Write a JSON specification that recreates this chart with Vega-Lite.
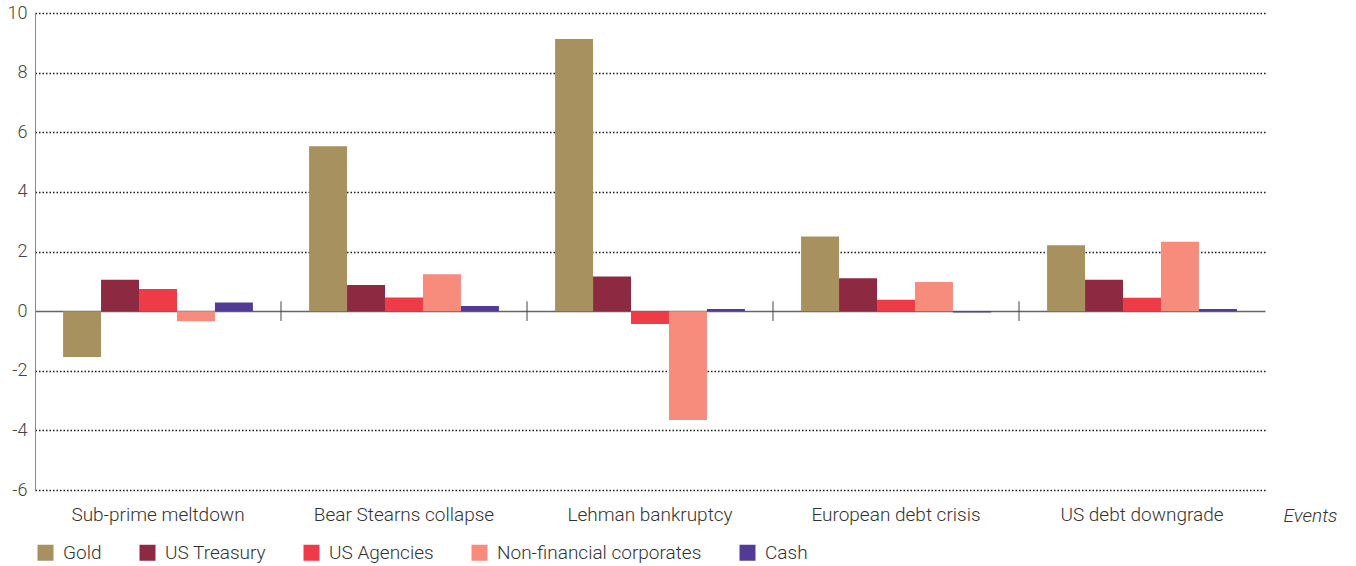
{
  "$schema": "https://vega.github.io/schema/vega-lite/v6.json",
  "width": 1230,
  "height": 477,
  "autosize": {"type": "none"},
  "padding": {"left": 35, "top": 13, "right": 91, "bottom": 76},
  "background": "white",
  "config": {
    "view": {"stroke": null},
    "font": "Roboto"
  },
  "datasets": {
    "bars": [
      {"event": "Sub-prime meltdown", "series": "Gold", "value": -1.54},
      {"event": "Sub-prime meltdown", "series": "US Treasury", "value": 1.05},
      {"event": "Sub-prime meltdown", "series": "US Agencies", "value": 0.74},
      {"event": "Sub-prime meltdown", "series": "Non-financial corporates", "value": -0.34},
      {"event": "Sub-prime meltdown", "series": "Cash", "value": 0.29},
      {"event": "Bear Stearns collapse", "series": "Gold", "value": 5.53},
      {"event": "Bear Stearns collapse", "series": "US Treasury", "value": 0.88},
      {"event": "Bear Stearns collapse", "series": "US Agencies", "value": 0.46},
      {"event": "Bear Stearns collapse", "series": "Non-financial corporates", "value": 1.24},
      {"event": "Bear Stearns collapse", "series": "Cash", "value": 0.17},
      {"event": "Lehman bankruptcy", "series": "Gold", "value": 9.13},
      {"event": "Lehman bankruptcy", "series": "US Treasury", "value": 1.16},
      {"event": "Lehman bankruptcy", "series": "US Agencies", "value": -0.43},
      {"event": "Lehman bankruptcy", "series": "Non-financial corporates", "value": -3.65},
      {"event": "Lehman bankruptcy", "series": "Cash", "value": 0.07},
      {"event": "European debt crisis", "series": "Gold", "value": 2.5},
      {"event": "European debt crisis", "series": "US Treasury", "value": 1.1},
      {"event": "European debt crisis", "series": "US Agencies", "value": 0.38},
      {"event": "European debt crisis", "series": "Non-financial corporates", "value": 0.98},
      {"event": "European debt crisis", "series": "Cash", "value": -0.05},
      {"event": "US debt downgrade", "series": "Gold", "value": 2.21},
      {"event": "US debt downgrade", "series": "US Treasury", "value": 1.05},
      {"event": "US debt downgrade", "series": "US Agencies", "value": 0.45},
      {"event": "US debt downgrade", "series": "Non-financial corporates", "value": 2.33},
      {"event": "US debt downgrade", "series": "Cash", "value": 0.07}
    ],
    "separators": [
      {"event": "Bear Stearns collapse"},
      {"event": "Lehman bankruptcy"},
      {"event": "European debt crisis"},
      {"event": "US debt downgrade"}
    ]
  },
  "layer": [
    {
      "data": {"name": "bars"},
      "mark": {"type": "bar"},
      "encoding": {
        "x": {
          "field": "event",
          "type": "nominal",
          "scale": {
            "domain": ["Sub-prime meltdown", "Bear Stearns collapse", "Lehman bankruptcy", "European debt crisis", "US debt downgrade"],
            "paddingInner": 0,
            "paddingOuter": 0
          },
          "axis": {
            "title": "Events",
            "titleFontStyle": "italic",
            "titleFontWeight": 300,
            "titleFontSize": 19,
            "titleColor": "#333333",
            "titleX": 1248,
            "titleY": 25,
            "titleAlign": "left",
            "titleBaseline": "middle",
            "titleAngle": 0,
            "labelAngle": 0,
            "labelFontSize": 19,
            "labelFontWeight": 300,
            "labelColor": "#333333",
            "labelPadding": 15,
            "labelLimit": 0,
            "ticks": false,
            "domain": false
          }
        },
        "xOffset": {
          "field": "series",
          "type": "nominal",
          "sort": ["Gold", "US Treasury", "US Agencies", "Non-financial corporates", "Cash"],
          "scale": {"paddingInner": 0, "paddingOuter": 0.74}
        },
        "y": {
          "field": "value",
          "type": "quantitative",
          "scale": {"domain": [-6, 10], "nice": false, "zero": false},
          "axis": {
            "title": null,
            "values": [-6, -4, -2, 0, 2, 4, 6, 8, 10],
            "labelExpr": "datum.value + ''",
            "labelFontSize": 18,
            "labelFontWeight": 300,
            "labelColor": "#444444",
            "labelPadding": 8,
            "ticks": false,
            "domain": true,
            "domainColor": "#888888",
            "grid": true,
            "gridColor": {"condition": {"test": "datum.value === 0", "value": "#666666"}, "value": "#1a1a1a"},
            "gridDash": {"condition": {"test": "datum.value === 0", "value": []}, "value": [1.5, 2]},
            "gridWidth": 1.3
          }
        },
        "color": {
          "field": "series",
          "type": "nominal",
          "sort": ["Gold", "US Treasury", "US Agencies", "Non-financial corporates", "Cash"],
          "scale": {
            "domain": ["Gold", "US Treasury", "US Agencies", "Non-financial corporates", "Cash"],
            "range": ["#a6915f", "#8e2942", "#ef3b47", "#f78b7c", "#523a96"]
          },
          "legend": {
            "title": null,
            "orient": "none",
            "legendX": 1,
            "legendY": 530,
            "direction": "horizontal",
            "symbolType": "square",
            "symbolSize": 256,
            "symbolStrokeWidth": 0,
            "labelFontSize": 19,
            "labelFontWeight": 300,
            "labelColor": "#333333",
            "labelOffset": 8,
            "labelLimit": 0,
            "columnPadding": 36
          }
        }
      }
    },
    {
      "data": {"name": "separators"},
      "mark": {"type": "rule", "color": "#444444", "strokeWidth": 1},
      "encoding": {
        "x": {"field": "event", "type": "nominal", "bandPosition": 0},
        "y": {"datum": -0.33},
        "y2": {"datum": 0.33}
      }
    }
  ]
}
